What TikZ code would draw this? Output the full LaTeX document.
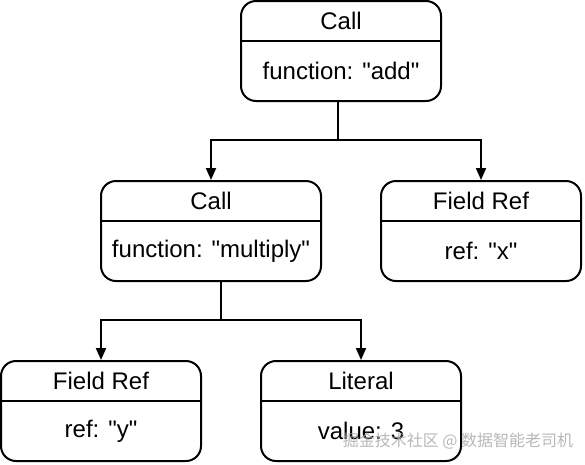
\documentclass[tikz,border=0pt]{standalone}
\usepackage{fontspec}
\setmainfont{Liberation Sans}[Ligatures=TeXOff]
\newfontfamily\cjk{Noto Sans CJK SC}
\usetikzlibrary{arrows.meta}
\tikzset{
  box/.style={draw, line width=2pt, rounded corners=15pt, minimum width=200pt, minimum height=100pt, inner sep=0pt},
  sep/.style={line width=2pt},
  link/.style={line width=2pt},
  arr/.style={line width=2pt, -{Triangle[length=12pt, width=10pt]}},
  txt/.style={font=\fontsize{24}{28}\selectfont, inner sep=0pt}
}
\begin{document}
\begin{tikzpicture}[x=1pt, y=-1pt]
\useasboundingbox (0,0) rectangle (585,464);
% boxes
\node[box] (call0) at (341,51){};
\node[box, minimum width=220pt] (call1) at (211,231){};
\node[box] (refx) at (481,231){};
\node[box] (refy) at (101,411){};
\node[box] (lit) at (361,411){};
\draw[sep] ([yshift=10pt]call0.west) -- ([yshift=10pt]call0.east);
\draw[sep] ([yshift=10pt]call1.west) -- ([yshift=10pt]call1.east);
\draw[sep] ([yshift=10pt]refx.west) -- ([yshift=10pt]refx.east);
\draw[sep] ([yshift=10pt]refy.west) -- ([yshift=10pt]refy.east);
\draw[sep] ([yshift=10pt]lit.west) -- ([yshift=10pt]lit.east);
% texts
\node[txt] (call0t) at ([yshift=30pt]call0.center){Call};
\node[txt] (call0b) at ([yshift=-20pt]call0.center){function: "add"};
\node[txt] (call1t) at ([yshift=30pt]call1.center){Call};
\node[txt] (call1b) at ([yshift=-20pt]call1.center){function: "multiply"};
\node[txt] (refxt) at ([yshift=30pt]refx.center){Field Ref};
\node[txt] (refxb) at ([yshift=-20pt]refx.center){ref: "x"};
\node[txt] (refyt) at ([yshift=30pt]refy.center){Field Ref};
\node[txt] (refyb) at ([yshift=-20pt]refy.center){ref: "y"};
\node[txt] (litt) at ([yshift=30pt]lit.center){Literal};
\node[txt] (litb) at ([yshift=-20pt]lit.center){value: 3};
% links
\coordinate (j0) at (338,140);
\coordinate (j1) at (221,320);
\draw[link] ([xshift=-3pt]call0.south) -- (j0);
\draw[arr] (j0) -| (call1.north);
\draw[arr] (j0) -| (refx.north);
\draw[link] ([xshift=10pt]call1.south) -- (j1);
\draw[arr] (j1) -| (refy.north);
\draw[arr] (j1) -| (lit.north);
% watermark
\node[font=\cjk\fontsize{16}{18}\selectfont, text=gray!70, opacity=0.8, inner sep=0pt] (mark) at (458,441){掘金技术社区 @ 数据智能老司机};
\end{tikzpicture}
\end{document}
